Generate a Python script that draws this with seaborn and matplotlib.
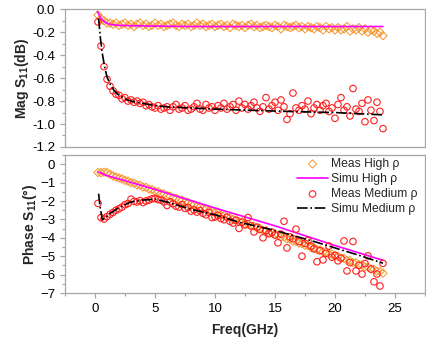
import numpy as np
import matplotlib
matplotlib.use("Agg")
import matplotlib.pyplot as plt
import seaborn as sns
from matplotlib.ticker import MultipleLocator

# measured sweep, 0.25 GHz step
freq_meas = np.linspace(0.25, 24.0, 96)

mag_high = [-0.05, -0.08, -0.10, -0.12, -0.12, -0.13, -0.12, -0.14,
            -0.13, -0.12, -0.14, -0.13, -0.15, -0.13, -0.12, -0.14,
            -0.13, -0.15, -0.14, -0.12, -0.14, -0.13, -0.15, -0.14,
            -0.13, -0.12, -0.14, -0.15, -0.13, -0.14, -0.13, -0.15,
            -0.14, -0.12, -0.14, -0.13, -0.15, -0.14, -0.13, -0.15,
            -0.14, -0.13, -0.15, -0.14, -0.16, -0.13, -0.14, -0.15,
            -0.14, -0.16, -0.14, -0.13, -0.15, -0.14, -0.16, -0.15,
            -0.14, -0.15, -0.16, -0.14, -0.15, -0.17, -0.14, -0.15,
            -0.16, -0.15, -0.14, -0.16, -0.15, -0.17, -0.15, -0.16,
            -0.17, -0.15, -0.16, -0.18, -0.15, -0.17, -0.16, -0.18,
            -0.16, -0.18, -0.17, -0.15, -0.19, -0.17, -0.18, -0.16,
            -0.19, -0.17, -0.20, -0.18, -0.19, -0.21, -0.20, -0.23]

mag_med = [-0.11, -0.32, -0.50, -0.61, -0.67, -0.71, -0.74, -0.75,
           -0.78, -0.77, -0.80, -0.79, -0.81, -0.80, -0.82, -0.81,
           -0.84, -0.83, -0.85, -0.86, -0.84, -0.87, -0.86, -0.85,
           -0.88, -0.85, -0.83, -0.87, -0.86, -0.84, -0.88, -0.87,
           -0.85, -0.82, -0.87, -0.88, -0.83, -0.86, -0.85, -0.88,
           -0.84, -0.86, -0.82, -0.87, -0.85, -0.83, -0.88, -0.80,
           -0.86, -0.83, -0.87, -0.84, -0.81, -0.86, -0.89, -0.85,
           -0.77, -0.87, -0.84, -0.81, -0.88, -0.79, -0.85, -0.96,
           -0.91, -0.73, -0.86, -0.88, -0.84, -0.87, -0.80, -0.91,
           -0.86, -0.83, -0.88, -0.84, -0.82, -0.89, -0.86, -0.95,
           -0.83, -0.77, -0.88, -0.85, -0.93, -0.69, -0.87, -0.89,
           -0.82, -0.98, -0.79, -0.88, -0.97, -0.81, -0.89, -1.04]

phase_high = [-0.45, -0.46, -0.43, -0.45, -0.55, -0.64, -0.70, -0.75,
              -0.80, -0.88, -0.92, -1.00, -1.03, -1.12, -1.14, -1.24,
              -1.26, -1.35, -1.38, -1.47, -1.50, -1.59, -1.61, -1.71,
              -1.73, -1.83, -1.85, -1.94, -1.96, -2.06, -2.08, -2.18,
              -2.20, -2.30, -2.31, -2.42, -2.43, -2.53, -2.55, -2.65,
              -2.66, -2.77, -2.78, -2.89, -2.90, -3.00, -3.02, -3.12,
              -3.13, -3.24, -3.25, -3.36, -3.37, -3.47, -3.49, -3.59,
              -3.60, -3.71, -3.72, -3.82, -3.84, -3.94, -3.95, -4.06,
              -4.07, -4.18, -4.19, -4.29, -4.31, -4.41, -4.42, -4.53,
              -4.54, -4.64, -4.66, -4.76, -4.77, -4.88, -4.89, -4.99,
              -5.01, -5.11, -5.12, -5.23, -5.24, -5.35, -5.36, -5.46,
              -5.48, -5.58, -5.59, -5.70, -5.71, -5.82, -5.83, -5.92]

phase_med = [-2.13, -2.90, -2.98, -2.85, -2.72, -2.62, -2.50, -2.42,
             -2.33, -2.20, -2.14, -1.90, -2.02, -2.05, -1.98, -2.08,
             -2.00, -1.95, -1.88, -1.86, -1.92, -1.95, -2.05, -2.24,
             -2.05, -2.15, -2.28, -2.33, -2.20, -2.40, -2.35, -2.55,
             -2.48, -2.60, -2.52, -2.67, -2.75, -2.62, -2.90, -2.87,
             -2.78, -2.95, -3.02, -2.88, -3.10, -3.20, -3.05, -3.49,
             -3.15, -3.30, -2.90, -3.35, -3.68, -3.42, -3.55, -4.00,
             -3.62, -3.78, -3.70, -3.85, -4.27, -3.80, -3.10, -4.55,
             -3.95, -4.05, -3.53, -4.20, -5.00, -4.30, -4.15, -4.45,
             -4.60, -5.30, -4.70, -5.20, -4.85, -4.45, -5.05, -4.95,
             -5.25, -5.10, -4.17, -5.80, -5.35, -4.20, -5.80, -5.50,
             -5.97, -5.40, -4.98, -5.70, -6.39, -5.97, -6.62, -5.39]

# simulated curves
sim_high_freq = [0.2, 0.5, 0.8, 1.2, 2.0, 4.0, 8.0, 12.0, 16.0, 20.0, 24.0]
sim_high_mag = [-0.02, -0.08, -0.11, -0.13, -0.14, -0.145, -0.15, -0.15, -0.15, -0.15, -0.15]
sim_high_ph_freq = [0.25, 1.0, 2.0, 5.0, 10.0, 15.0, 20.0, 24.0]
sim_high_phase = [-0.42, -0.62, -0.80, -1.37, -2.38, -3.35, -4.42, -5.22]

sim_med_freq = [0.3, 0.45, 0.6, 0.8, 1.0, 1.3, 1.6, 2.0, 2.5, 3.0, 4.0, 5.0, 6.0, 8.0,
                10.0, 13.0, 16.0, 20.0, 24.0]
sim_med_mag = [-0.08, -0.25, -0.38, -0.50, -0.59, -0.66, -0.71, -0.75, -0.78, -0.80,
               -0.82, -0.84, -0.85, -0.86, -0.87, -0.88, -0.89, -0.90, -0.92]
sim_med_ph_freq = [0.3, 0.4, 0.6, 0.8, 1.2, 2.0, 3.0, 4.0, 5.0, 6.0, 7.0, 8.0, 10.0,
                   12.0, 15.0, 18.0, 20.0, 22.0, 24.0]
sim_med_phase = [-1.6, -2.2, -3.0, -2.95, -2.7, -2.35, -2.05, -1.95, -1.9, -2.05, -2.25,
                 -2.45, -2.75, -3.15, -3.6, -4.15, -4.55, -4.95, -5.38]

orange = '#F8962A'
red = '#FF2020'
magenta = '#FF00FF'
gray = '#A6A6A6'

sns.set_style('ticks')
plt.rcParams['font.family'] = ['Liberation Sans', 'DejaVu Sans']
plt.rcParams['mathtext.fontset'] = 'custom'
plt.rcParams['mathtext.rm'] = 'Liberation Sans'
plt.rcParams['mathtext.bf'] = 'Liberation Sans:bold'

fig = plt.figure(figsize=(4.26, 3.45), dpi=100)
ax1 = fig.add_axes([0.1526, 0.574, 0.845, 0.399])
ax2 = fig.add_axes([0.1526, 0.1507, 0.845, 0.4])


def draw(ax, mh, ph_x, ph_y, mm, pm_x, pm_y):
    sns.scatterplot(x=freq_meas, y=mh, ax=ax, marker='D', s=18, color=orange,
                    facecolor='none', edgecolor=orange, linewidth=0.7,
                    label='Meas High ρ', zorder=2)
    sns.lineplot(x=ph_x, y=ph_y, ax=ax, color=magenta, lw=1.2,
                 label='Simu High ρ', zorder=3)
    sns.scatterplot(x=freq_meas, y=mm, ax=ax, marker='o', s=22, color=red,
                    facecolor='none', edgecolor=red, linewidth=0.8,
                    label='Meas Medium ρ', zorder=4)
    sns.lineplot(x=pm_x, y=pm_y, ax=ax, color='black', lw=1.2, ls='-.',
                 label='Simu Medium ρ', zorder=5)


draw(ax1, mag_high, sim_high_freq, sim_high_mag, mag_med, sim_med_freq, sim_med_mag)
draw(ax2, phase_high, sim_high_ph_freq, sim_high_phase, phase_med,
     sim_med_ph_freq, sim_med_phase)

for ax in (ax1, ax2):
    ax.set_xlim(-2.5, 27.5)
    for sp in ax.spines.values():
        sp.set_color(gray)
        sp.set_linewidth(0.9)
    ax.tick_params(which='both', direction='out', color=gray, labelsize=9.5,
                   labelcolor='black', width=0.9)
    ax.tick_params(which='major', length=3.5)
    ax.tick_params(which='minor', length=2)

ax1.get_legend().remove()
ax1.set_ylim(-1.2, 0.0)
ax1.yaxis.set_major_locator(MultipleLocator(0.2))
ax1.yaxis.set_minor_locator(MultipleLocator(0.1))
ax1.yaxis.set_major_formatter(matplotlib.ticker.FormatStrFormatter('%.1f'))
ax1.set_xticks([])
ax1.set_ylabel(r'Mag S$_\mathbf{11}$(dB)', fontsize=10, fontweight='bold', labelpad=1)

ax2.set_ylim(-7, 0.5)
ax2.yaxis.set_major_locator(MultipleLocator(1))
ax2.yaxis.set_minor_locator(MultipleLocator(0.5))
ax2.xaxis.set_major_locator(MultipleLocator(5))
ax2.xaxis.set_minor_locator(MultipleLocator(2.5))
ax2.set_ylabel(r'Phase S$_\mathbf{11}$(°)', fontsize=10, fontweight='bold', labelpad=1)
ax2.set_xlabel('Freq(GHz)', fontsize=10, fontweight='bold', labelpad=6)

ax2.legend(loc='upper right', bbox_to_anchor=(1.0, 1.03), frameon=False,
           fontsize=8.7, handlelength=2.5, handletextpad=0.3, labelspacing=0.25,
           borderaxespad=0.2)

fig.savefig('out.png', dpi=100)
